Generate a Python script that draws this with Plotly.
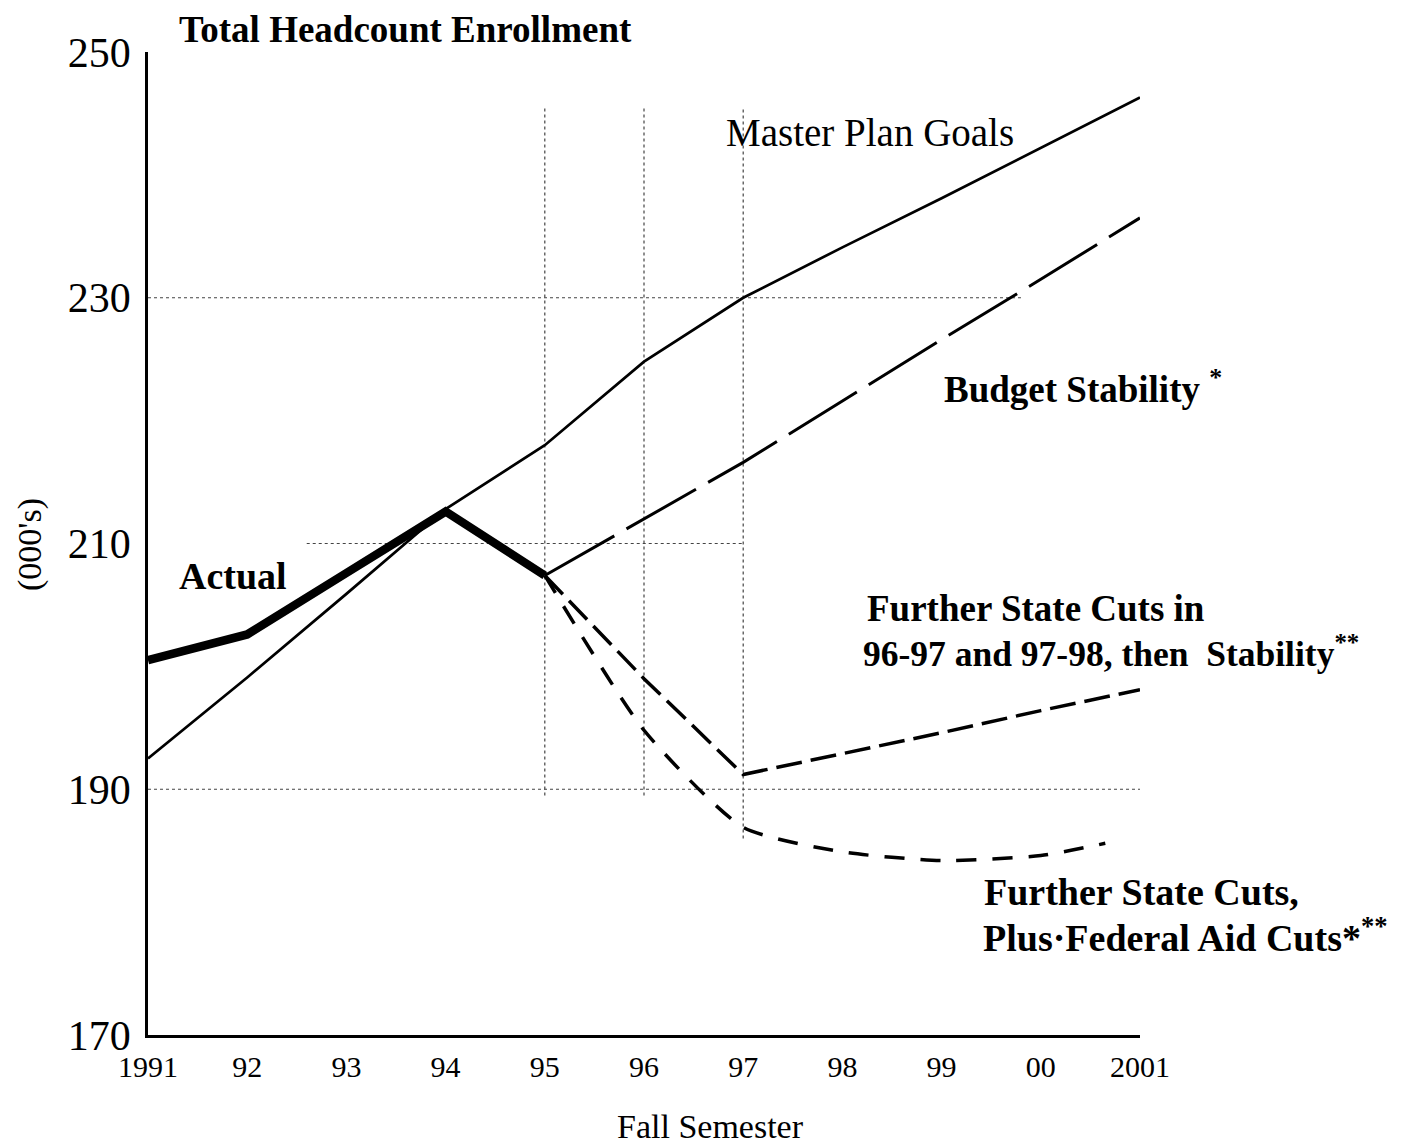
import plotly.graph_objects as go

# ---- data ----
years_actual = [1991, 1992, 1993, 1994, 1995]
actual = [200.5, 202.6, 207.6, 212.6, 207.4]

years_master = [1991, 1992, 1993, 1994, 1995, 1996, 1997, 1998, 1999, 2000, 2001]
master = [192.5, 199.1, 205.9, 212.8, 218.0, 224.8, 230.0, 234.1, 238.1, 242.2, 246.3]

years_budget = [1995, 1996, 1997, 1998, 1999, 2000, 2001]
budget = [207.4, 212.0, 216.6, 221.6, 226.6, 231.5, 236.5]

years_state = [1995, 1996, 1997, 1998, 1999, 2000, 2001]
state_cuts = [207.4, 199.0, 191.2, 192.9, 194.6, 196.4, 198.1]

years_federal = [1995, 1996, 1997, 1998, 1999, 2000, 2000.65]
federal_cuts = [207.4, 194.8, 186.9, 184.9, 184.2, 184.6, 185.6]

x_ticks = [1991, 1992, 1993, 1994, 1995, 1996, 1997, 1998, 1999, 2000, 2001]
x_labels = ["1991", "92", "93", "94", "95", "96", "97", "98", "99", "00", "2001"]
y_ticks = [170, 190, 210, 230, 250]

# dotted reference lines: (value, start, end)
h_refs = [(190, 1991, 2001), (210, 1992.6, 1997), (230, 1991, 1999.8)]
v_refs = [(1995, 189.5, 245.5), (1996, 189.5, 245.5), (1997, 186.0, 245.5)]

FONT = "Liberation Serif, Times New Roman, serif"

fig = go.Figure()

fig.add_trace(go.Scatter(x=years_master, y=master, mode="lines",
                         line=dict(color="black", width=2.7), name="Master Plan Goals"))
fig.add_trace(go.Scatter(x=years_budget, y=budget, mode="lines",
                         line=dict(color="black", width=3, dash="80px,14px"), name="Budget Stability"))
fig.add_trace(go.Scatter(x=years_state, y=state_cuts, mode="lines",
                         line=dict(color="black", width=3.5, dash="26px,9px"), name="Further State Cuts"))
fig.add_trace(go.Scatter(x=years_federal, y=federal_cuts, mode="lines", line_shape="spline",
                         line=dict(color="black", width=3.5, dash="20px,16px", smoothing=0.6),
                         name="Federal Aid Cuts"))
fig.add_trace(go.Scatter(x=years_actual, y=actual, mode="lines",
                         line=dict(color="black", width=8.5), name="Actual"))

for v, a, b in h_refs:
    fig.add_shape(type="line", xref="x", yref="y", x0=a, x1=b, y0=v, y1=v,
                  line=dict(color="#444", width=1.2, dash="dot"), layer="below")
for v, a, b in v_refs:
    fig.add_shape(type="line", xref="x", yref="y", x0=v, x1=v, y0=a, y1=b,
                  line=dict(color="#444", width=1.2, dash="dot"), layer="below")

W, H = 1410, 1146
OFF = 8  # page body margin
PL, PR, PT, PB = 148, 1140, 52, 1035  # plot area in page pixels
L, T = PL - OFF, PT - OFF
R, B = W - (PR - OFF), H - (PB - OFF)
pw, ph = PR - PL, PB - PT

def px(x):
    return (x - PL) / pw

def py(y):
    return 1 - (y - PT) / ph

def ann(text, x, y, size=30, bold=True, xanchor="left", angle=0):
    fig.add_annotation(text=("<b>%s</b>" % text) if bold else text,
                       x=px(x), y=py(y), xref="paper", yref="paper", showarrow=False,
                       xanchor=xanchor, yanchor="middle", textangle=angle,
                       font=dict(family=FONT, size=size, color="black"), align="left")

ann("Total Headcount Enrollment", 177, 30, size=37)
ann("Master Plan Goals", 724, 132, size=39, bold=False)
ann("Budget Stability <sup>*</sup>", 942, 386, size=37)
ann("Actual", 177, 576, size=38)
ann("Further State Cuts in", 865, 608, size=37)
ann("96-97 and 97-98, then  Stability<sup>**</sup>", 861, 651, size=35.5)
ann("Further State Cuts,", 982, 892, size=38)
ann("Plus·Federal Aid Cuts*<sup>**</sup>", 981, 935, size=38)
ann("Fall Semester", 710, 1126, size=34, bold=False, xanchor="center")
ann("(000's)", 30, 545, size=34, bold=False, xanchor="center", angle=-90)

fig.update_layout(
    width=W, height=H,
    margin=dict(l=L, r=R, t=T, b=B),
    paper_bgcolor="white", plot_bgcolor="white",
    showlegend=False,
    font=dict(family=FONT, color="black"),
    xaxis=dict(range=[1991, 2001], tickvals=x_ticks, ticktext=x_labels, automargin=False,
               showgrid=False, zeroline=False, showline=True, linecolor="black", linewidth=2.5,
               ticks="", tickfont=dict(size=30, family=FONT), ticklabelstandoff=3),
    yaxis=dict(range=[170, 250], tickvals=y_ticks, automargin=False,
               showgrid=False, zeroline=False, showline=True, linecolor="black", linewidth=2.5,
               ticks="", tickfont=dict(size=42, family=FONT), ticklabelstandoff=6),
)

fig.write_html("out.html")
